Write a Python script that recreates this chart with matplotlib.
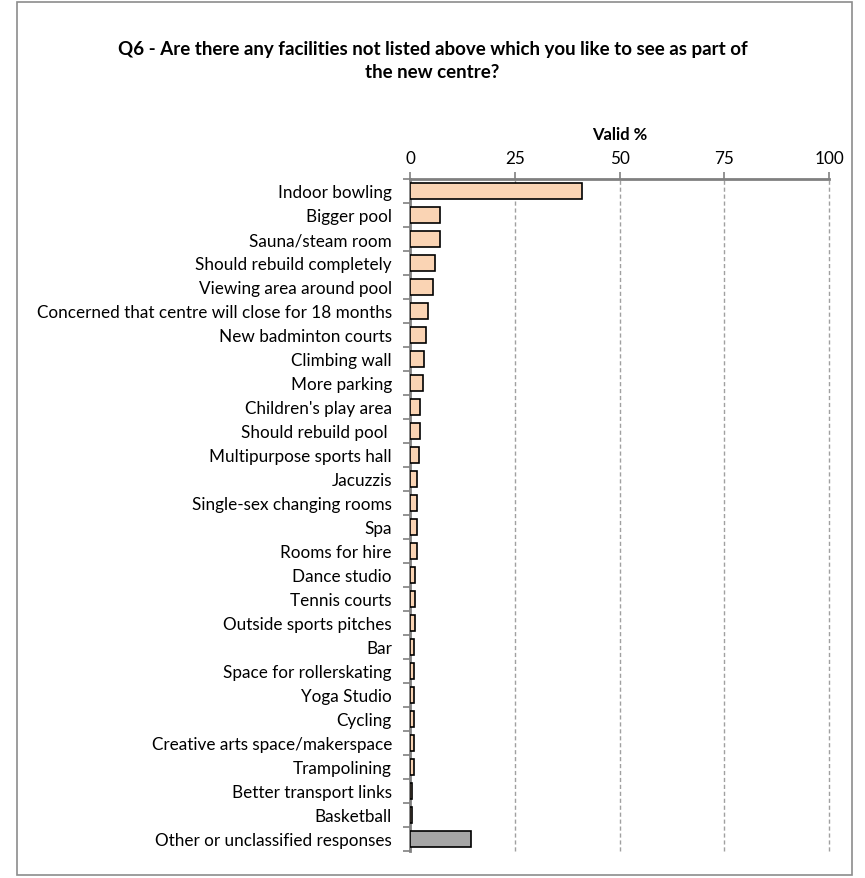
import matplotlib
matplotlib.use("Agg")
import matplotlib.pyplot as plt
from matplotlib.patches import Rectangle

plt.rcParams['font.family'] = ['Lato', 'DejaVu Sans']

categories = [
    "Indoor bowling", "Bigger pool", "Sauna/steam room", "Should rebuild completely",
    "Viewing area around pool", "Concerned that centre will close for 18 months",
    "New badminton courts", "Climbing wall", "More parking", "Children's play area",
    "Should rebuild pool ", "Multipurpose sports hall", "Jacuzzis",
    "Single-sex changing rooms", "Spa", "Rooms for hire", "Dance studio",
    "Tennis courts", "Outside sports pitches", "Bar", "Space for rollerskating",
    "Yoga Studio", "Cycling", "Creative arts space/makerspace", "Trampolining",
    "Better transport links", "Basketball", "Other or unclassified responses",
]
valid_pct = [
    41.1, 7.1, 7.1, 5.9, 5.4, 4.2, 3.7, 3.3, 3.0, 2.5, 2.5, 2.2, 1.7, 1.7, 1.7, 1.7,
    1.3, 1.3, 1.3, 0.9, 0.9, 0.9, 0.9, 0.9, 0.9, 0.4, 0.4, 14.6,
]
xticks = [0, 25, 50, 75, 100]

W, H = 865, 879
fig = plt.figure(figsize=(W / 100, H / 100), dpi=100)

# outer chart border
fig.patches.append(Rectangle((17 / W, 3 / H), 835 / W, 873 / H, transform=fig.transFigure,
                             fill=False, edgecolor='#8c8c8c', linewidth=1.2))

ax = fig.add_axes([410 / W, 1 - 852 / H, 419 / W, 672 / H])

colors = ['#fad4b4'] * (len(categories) - 1) + ['#a6a6a6']
ypos = list(range(len(categories)))
ax.barh(ypos, valid_pct, height=0.7, color=colors, edgecolor='black', linewidth=1.2, zorder=3)

ax.set_ylim(len(categories) - 0.5, -0.5)
ax.set_xlim(0, 100)
ax.set_yticks(ypos)
ax.set_yticklabels(categories, fontsize=12.3)
ax.set_yticks([i - 0.5 for i in range(len(categories) + 1)], minor=True)
ax.tick_params(axis='y', which='major', length=0, pad=13)
ax.tick_params(axis='y', which='minor', length=5, color='#808080', width=1.2)

ax.xaxis.tick_top()
ax.xaxis.set_label_position('top')
ax.set_xticks(xticks)
ax.set_xticklabels([str(t) for t in xticks], fontsize=12.3)
ax.tick_params(axis='x', length=5, color='#808080', width=1.2, pad=4)
ax.set_xlabel("Valid %", fontsize=12, fontweight='bold', labelpad=8)

for t in xticks[1:]:
    ax.axvline(t, color='#a0a0a0', linestyle=(0, (3, 2)), linewidth=1, zorder=1, clip_on=False)

for side in ['right', 'bottom']:
    ax.spines[side].set_visible(False)
ax.spines['top'].set_color('#808080')
ax.spines['top'].set_linewidth(2)
ax.spines['left'].set_color('#808080')
ax.spines['left'].set_linewidth(2)

fig.text(0.5, 1 - 49 / H, "Q6 - Are there any facilities not listed above which you like to see as part of",
         ha='center', va='center', fontsize=13.5, fontweight='bold')
fig.text(0.5, 1 - 72 / H, "the new centre?",
         ha='center', va='center', fontsize=13.5, fontweight='bold')

fig.savefig("out.png", dpi=100)
